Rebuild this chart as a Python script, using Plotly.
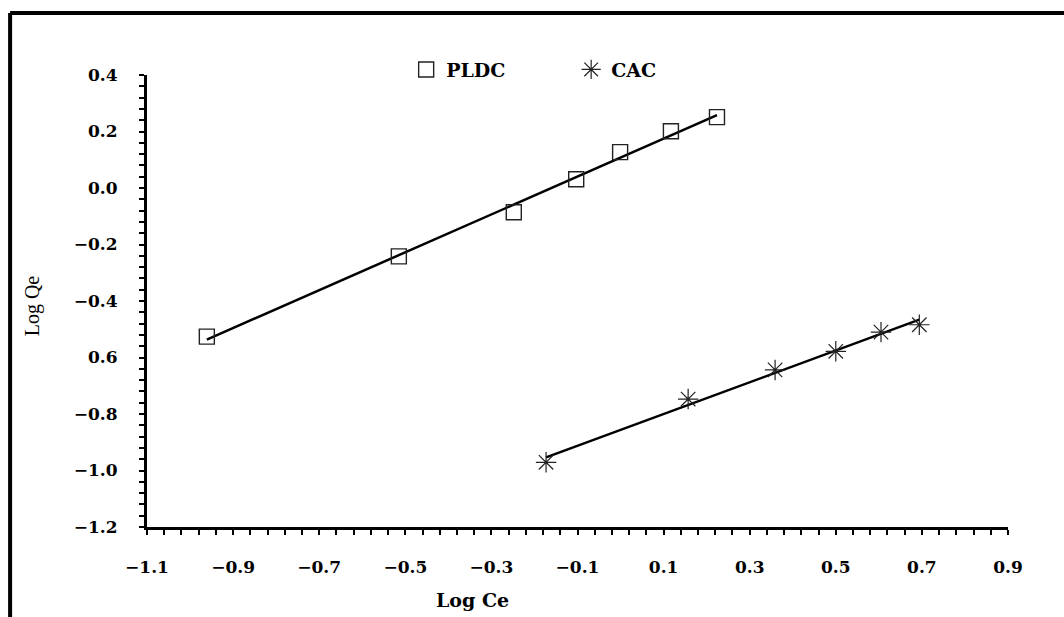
import numpy as np
import plotly.graph_objects as go

# Freundlich isotherm data: log Ce vs log Qe
pldc_log_ce = [-0.961, -0.515, -0.248, -0.103, -0.001, 0.117, 0.224]
pldc_log_qe = [-0.526, -0.242, -0.086, 0.031, 0.127, 0.201, 0.251]

cac_log_ce = [-0.173, 0.157, 0.359, 0.500, 0.605, 0.694]
cac_log_qe = [-0.971, -0.747, -0.644, -0.578, -0.510, -0.484]

x_tick_vals = [-1.1, -0.9, -0.7, -0.5, -0.3, -0.1, 0.1, 0.3, 0.5, 0.7, 0.9]
x_tick_text = ["\u22121.1", "\u22120.9", "\u22120.7", "\u22120.5", "\u22120.3", "\u22120.1",
               "0.1", "0.3", "0.5", "0.7", "0.9"]
y_tick_vals = [0.4, 0.2, 0.0, -0.2, -0.4, -0.6, -0.8, -1.0, -1.2]
y_tick_text = ["0.4", "0.2", "0.0", "\u22120.2", "\u22120.4", "0.6", "\u22120.8", "\u22121.0", "\u22121.2"]

TICK_FONT = dict(family="DejaVu Serif", size=17, color="black", weight="bold")


def fit_line(xs, ys):
    slope, intercept = np.polyfit(xs, ys, 1)
    xx = np.array([min(xs), max(xs)])
    return xx, slope * xx + intercept


def with_minor(major_vals, major_text, lo, hi, step=0.04):
    """Tick every `step`, labelled only at the major values."""
    labels = {round(v, 3): t for v, t in zip(major_vals, major_text)}
    n = int(round((hi - lo) / step))
    vals = [round(lo + i * step, 3) for i in range(n + 1)]
    return vals, [labels.get(v, "") for v in vals]


fig = go.Figure()

for xs, ys in ((pldc_log_ce, pldc_log_qe), (cac_log_ce, cac_log_qe)):
    fx, fy = fit_line(xs, ys)
    fig.add_trace(go.Scatter(x=fx, y=fy, mode="lines", showlegend=False,
                             line=dict(color="black", width=2.5), hoverinfo="skip"))

fig.add_trace(go.Scatter(
    x=pldc_log_ce, y=pldc_log_qe, mode="markers", name="PLDC",
    marker=dict(symbol="square-open", size=15, color="#222222", line=dict(width=1.4)),
))
fig.add_trace(go.Scatter(
    x=cac_log_ce, y=cac_log_qe, mode="markers", name="CAC",
    marker=dict(symbol="asterisk-open", size=17, color="#222222", line=dict(width=1.2)),
))

axis_common = dict(
    showline=True, linecolor="black", linewidth=3, mirror=False,
    showgrid=False, zeroline=False, tickmode="array",
    ticks="outside", ticklen=5, tickwidth=2, tickcolor="black",
    tickfont=TICK_FONT, ticklabelstandoff=18,
)

xv, xt = with_minor(x_tick_vals, x_tick_text, -1.1, 0.9)
yv, yt = with_minor(y_tick_vals, y_tick_text, -1.2, 0.4)

fig.update_xaxes(range=[-1.1, 0.9], tickvals=xv, ticktext=xt, **axis_common)
fig.update_yaxes(range=[-1.2, 0.4], tickvals=yv, ticktext=yt, **axis_common)

# Outer frame: top and left border lines
fig.add_shape(type="line", xref="paper", yref="paper", x0=-0.159, x1=1.07, y0=1.137, y1=1.137,
              line=dict(color="black", width=4))
fig.add_shape(type="line", xref="paper", yref="paper", x0=-0.159, x1=-0.159, y0=1.137, y1=-0.2,
              line=dict(color="black", width=4))

fig.add_annotation(text="Log Qe", xref="paper", yref="paper", x=-0.132, y=0.489,
                   xanchor="center", yanchor="middle", textangle=-90, showarrow=False,
                   font=dict(family="Liberation Serif", size=20, color="black"))
fig.add_annotation(text="Log Ce", xref="paper", yref="paper", x=0.378, y=-0.162,
                   xanchor="center", yanchor="middle", showarrow=False,
                   font=dict(family="DejaVu Serif", size=19, color="black", weight="bold"))

fig.update_layout(
    width=1064, height=617,
    margin=dict(l=147, r=56, t=75, b=90),
    plot_bgcolor="white", paper_bgcolor="white",
    legend=dict(orientation="h", x=0.301, y=1.012, xanchor="left", yanchor="middle",
                entrywidth=120, entrywidthmode="pixels",
                font=dict(family="DejaVu Serif", size=19, color="black", weight="bold"),
                bgcolor="rgba(0,0,0,0)"),
)

fig.write_html("out.html")
